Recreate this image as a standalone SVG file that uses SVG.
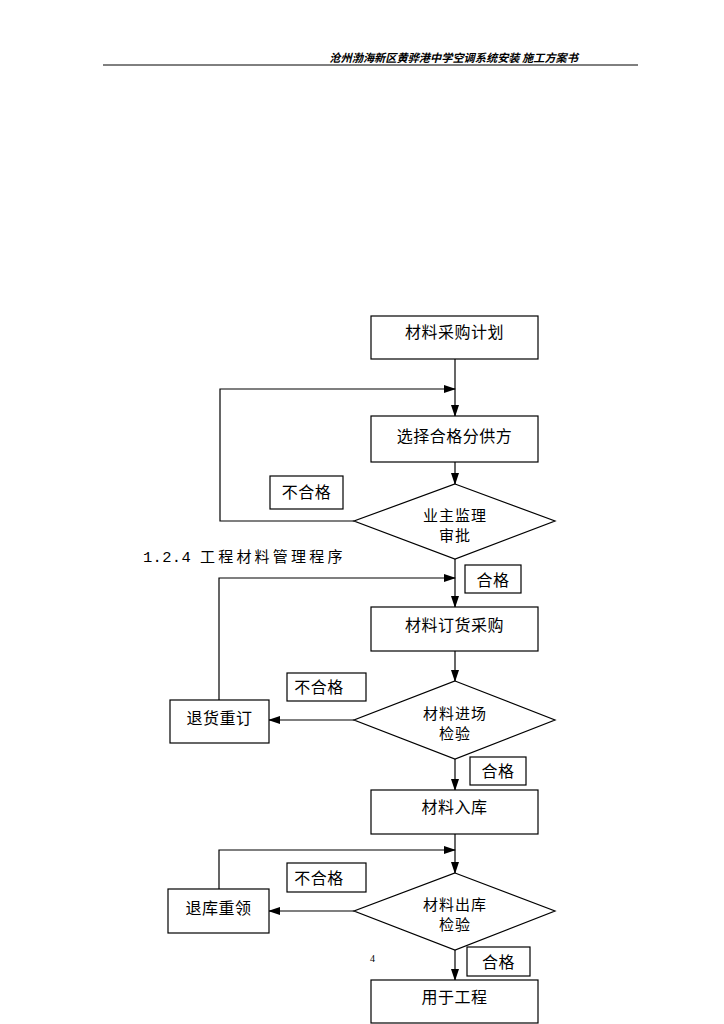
<svg xmlns="http://www.w3.org/2000/svg" width="724" height="1024" viewBox="0 0 724 1024">
<style>
.b{fill:#fff;stroke:#000;stroke-width:1.2}
.c{fill:none;stroke:#000;stroke-width:1.2}
.t{font-family:"Noto Sans CJK SC","Liberation Sans",sans-serif;font-size:16px;letter-spacing:0.5px;fill:#000;text-anchor:middle;dominant-baseline:central}
.d{font-size:15px;letter-spacing:1px}
.l{font-family:"Noto Sans CJK SC","Liberation Sans",sans-serif;font-size:15px;fill:#000}
</style>
<defs>
<marker id="a" markerWidth="12" markerHeight="8" refX="11" refY="4" orient="auto" markerUnits="userSpaceOnUse">
<path d="M0,0 L12,4 L0,8 Z" fill="#000"/>
</marker>
</defs>
<rect width="724" height="1024" fill="#fff"/>
<g id="header">
<text x="578" y="57" font-family="Noto Sans CJK SC,sans-serif" font-size="11.2" font-weight="bold" font-style="italic" text-anchor="end" dominant-baseline="central">沧州渤海新区黄骅港中学空调系统安装 施工方案书</text>
<line x1="103" y1="65" x2="638" y2="65" stroke="#000" stroke-width="1"/>
</g>
<g id="title"><text class="l" y="562"><tspan x="143" font-family="Liberation Mono,monospace" font-size="15.5" letter-spacing="0.3">1.2.4</tspan><tspan x="200" letter-spacing="3.2">工程材料管理程序</tspan></text></g>
<g id="connectors">
<line class="c" x1="455" y1="359" x2="455" y2="416" marker-end="url(#a)"/>
<polyline class="c" points="354,521 220,521 220,389 455,389" marker-end="url(#a)"/>
<line class="c" x1="455" y1="462" x2="455" y2="484" marker-end="url(#a)"/>
<line class="c" x1="455" y1="559" x2="455" y2="607" marker-end="url(#a)"/>
<polyline class="c" points="219,700 219,578 455,578" marker-end="url(#a)"/>
<line class="c" x1="455" y1="651" x2="455" y2="681" marker-end="url(#a)"/>
<line class="c" x1="354" y1="720" x2="269" y2="720" marker-end="url(#a)"/>
<line class="c" x1="455" y1="759" x2="455" y2="790" marker-end="url(#a)"/>
<line class="c" x1="455" y1="834" x2="455" y2="873" marker-end="url(#a)"/>
<polyline class="c" points="219,889 219,850 455,850" marker-end="url(#a)"/>
<line class="c" x1="354" y1="911" x2="269" y2="911" marker-end="url(#a)"/>
<line class="c" x1="455" y1="950" x2="455" y2="980" marker-end="url(#a)"/>
</g>
<g id="n1"><rect class="b" x="371" y="316" width="167" height="43"/><text class="t" x="454.5" y="331">材料采购计划</text></g>
<g id="n2"><rect class="b" x="371" y="416" width="167" height="46"/><text class="t" x="454.5" y="435">选择合格分供方</text></g>
<g id="d1"><polygon class="b" points="455,484 555,521 455,559 354,521"/><text class="t d" x="455" y="514">业主监理</text><text class="t d" x="455" y="534">审批</text></g>
<g id="f1"><rect class="b" x="270" y="476" width="73" height="33"/><text class="t" x="306.5" y="491">不合格</text></g>
<g id="p1"><rect class="b" x="465" y="565" width="56" height="28"/><text class="t" x="493" y="579">合格</text></g>
<g id="n3"><rect class="b" x="371" y="607" width="167" height="44"/><text class="t" x="454.5" y="624">材料订货采购</text></g>
<g id="d2"><polygon class="b" points="455,681 555,720 455,759 354,720"/><text class="t d" x="455" y="712">材料进场</text><text class="t d" x="455" y="732">检验</text></g>
<g id="f2"><rect class="b" x="287" y="673" width="79" height="28"/><text class="t" x="319" y="686">不合格</text></g>
<g id="r1"><rect class="b" x="170" y="700" width="99" height="43"/><text class="t" x="219.5" y="717">退货重订</text></g>
<g id="p2"><rect class="b" x="470" y="757" width="56" height="28"/><text class="t" x="498" y="770">合格</text></g>
<g id="n4"><rect class="b" x="371" y="790" width="167" height="44"/><text class="t" x="454.5" y="806">材料入库</text></g>
<g id="d3"><polygon class="b" points="455,873 555,911 455,950 354,911"/><text class="t d" x="455" y="903">材料出库</text><text class="t d" x="455" y="923">检验</text></g>
<g id="f3"><rect class="b" x="287" y="863" width="79" height="29"/><text class="t" x="319" y="877">不合格</text></g>
<g id="r2"><rect class="b" x="168" y="889" width="101" height="44"/><text class="t" x="218.5" y="907">退库重领</text></g>
<g id="p3"><rect class="b" x="467" y="947" width="63" height="29"/><text class="t" x="498.5" y="961">合格</text></g>
<g id="n5"><rect class="b" x="371" y="980" width="167" height="43"/><text class="t" x="454.5" y="996">用于工程</text></g>
<text x="370" y="958" font-family="Liberation Serif,serif" font-size="10" dominant-baseline="central">4</text>
</svg>
